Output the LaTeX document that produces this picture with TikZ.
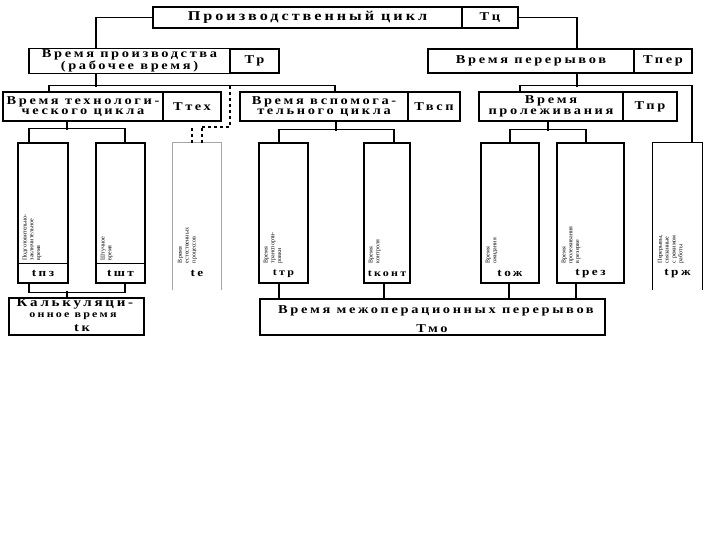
\documentclass[tikz,border=0pt]{standalone}
\usepackage{fontspec}
\setmainfont{Liberation Serif}[FakeStretch=1.2, LetterSpace=22]
\newfontfamily\vfont{Liberation Serif}
\usetikzlibrary{calc}
\begin{document}
\begin{tikzpicture}[x=1pt,y=-1pt,
  box/.style={draw, line width=1.1pt, inner sep=1pt, align=center, font=\bfseries\fontsize{12}{10.5}\selectfont},
  sym/.style={box, font=\bfseries\fontsize{12}{11}\selectfont},
  tall/.style={draw, line width=1.1pt, inner sep=0pt, minimum height=140pt},
  lbl/.style={font=\bfseries\fontsize{11}{10}\selectfont, inner sep=0pt},
  txt/.style={inner sep=0pt, font=\bfseries\fontsize{12}{11}\selectfont},
  vtxt/.style={rotate=90, anchor=north west, align=left, inner sep=0pt, font=\vfont\fontsize{6}{6.8}\selectfont},
  conn/.style={line width=1.1pt},
  dconn/.style={line width=1.1pt, dashed}]
\fill[white] (0,0) rectangle (720,540);
\useasboundingbox (0,0) rectangle (720,540);

% level 1
\node[box, minimum width=309pt, minimum height=21pt, font=\bfseries\fontsize{13.5}{13}\selectfont] (cyc) at (307.5,17.5) {Производственный цикл};
\node[sym, minimum width=56pt, minimum height=21pt] (tc) at (490,17.5) {Тц};
% level 2
\node[box, minimum width=201pt, minimum height=24pt] (tr1) at (129.5,61) {Время производства\\(рабочее время)};
\node[sym, minimum width=49pt, minimum height=24pt] (tr2) at (254.5,61) {Тр};
\node[box, minimum width=206pt, minimum height=24pt] (tp1) at (531,61) {Время перерывов};
\node[sym, minimum width=58pt, minimum height=24pt] (tp2) at (663,61) {Тпер};
% level 3
\node[box, minimum width=160pt, minimum height=29pt] (tx1) at (83,106.5) {Время технологи-\\ческого цикла};
\node[sym, minimum width=58pt, minimum height=29pt] (tx2) at (192,106.5) {Ттех};
\node[box, minimum width=168pt, minimum height=29pt] (vs1) at (324,106.5) {Время вспомога-\\тельного цикла};
\node[sym, minimum width=52pt, minimum height=29pt] (vs2) at (434,106.5) {Твсп};
\node[box, minimum width=144pt, minimum height=29pt] (pr1) at (551,106.5) {Время\\пролеживания};
\node[sym, minimum width=54pt, minimum height=29pt] (pr2) at (650,106.5) {Тпр};

% tall boxes
\node[tall, minimum width=50pt] (pz) at (43,213) {};
\node[tall, minimum width=49pt] (sh) at (120.5,213) {};
\node[inner sep=0pt, minimum width=48pt, minimum height=140pt] (te) at (197,213) {};
\node[tall, minimum width=49pt] (tt) at (283.5,213) {};
\node[tall, minimum width=46pt] (kt) at (387,213) {};
\node[tall, minimum width=58pt] (oz) at (510,213) {};
\node[tall, minimum width=67pt] (rz) at (590.5,213) {};
\node[inner sep=0pt, minimum width=49pt, minimum height=140pt] (rj) at (677.5,213) {};
\draw[gray!70, line width=1pt] ([yshift=-7pt]te.south west) -- (te.north west) -- (te.north east) -- ([yshift=-7pt]te.south east);
\draw[conn] ([yshift=-7pt]rj.south west) -- (rj.north west) -- (rj.north east) -- ([yshift=-7pt]rj.south east);
\draw[line width=0.8pt] ([yshift=20pt]pz.south west) -- ([yshift=20pt]pz.south east);
\draw[line width=0.8pt] ([yshift=20pt]sh.south west) -- ([yshift=20pt]sh.south east);

% labels in tall boxes
\node[lbl] (pzl) at ([yshift=10pt]pz.south) {tпз};
\node[lbl] (shl) at ([yshift=10pt]sh.south) {tшт};
\node[lbl] (tel) at ([yshift=10pt]te.south) {tе};
\node[lbl, font=\bfseries\fontsize{10}{10}\selectfont] (ttl) at ([yshift=10pt]tt.south) {tтр};
\node[lbl, font=\bfseries\fontsize{10}{10}\selectfont] (ktl) at ([yshift=10pt]kt.south) {tконт};
\node[lbl] (ozl) at ([yshift=10pt]oz.south) {tож};
\node[lbl] (rzl) at ([yshift=10pt]rz.south) {tрез};
\node[lbl] (rjl) at ([yshift=10pt]rj.south) {tрж};

% vertical texts
\node[vtxt] (pzv) at ([xshift=5pt,yshift=23pt]pz.south west) {Подготовительно-\\заключительное\\время};
\node[vtxt] (shv) at ([xshift=5pt,yshift=23pt]sh.south west) {Штучное\\время};
\node[vtxt] (tev) at ([xshift=5pt,yshift=20pt]te.south west) {Время\\естественных\\процессов};
\node[vtxt] (ttv) at ([xshift=5pt,yshift=20pt]tt.south west) {Время\\транспорти-\\ровки};
\node[vtxt] (ktv) at ([xshift=5pt,yshift=20pt]kt.south west) {Время\\контроля};
\node[vtxt] (ozv) at ([xshift=5pt,yshift=20pt]oz.south west) {Время\\ожидания};
\node[vtxt] (rzv) at ([xshift=5pt,yshift=20pt]rz.south west) {Время\\пролеживания\\в резерве};
\node[vtxt] (rjv) at ([xshift=5pt,yshift=20pt]rj.south west) {Перерывы,\\связанные\\с режимом\\работы};

% bottom boxes
\node[draw, line width=1.1pt, minimum width=135pt, minimum height=37pt] (calc) at (76.5,316.5) {};
\node[inner sep=0pt, font=\bfseries\fontsize{12.5}{12}\selectfont] (calca) at (75,304) {Калькуляци-};
\node[inner sep=0pt, font=\bfseries\fontsize{10}{9}\selectfont] (calcb) at (73,316) {онное время};
\node[inner sep=0pt, font=\bfseries\fontsize{12}{11}\selectfont] (calcc) at (82,328) {tк};
\node[draw, line width=1.1pt, minimum width=345pt, minimum height=36pt] (tmo) at (432.5,317) {};
\node[txt] (tmoa) at (436,311) {Время межоперационных перерывов};
\node[inner sep=0pt, font=\bfseries\fontsize{12}{11}\selectfont] (tmob) at (432,329) {Тмо};

% connectors
\draw[conn] (cyc.west) -| ([xshift=-33.5pt]tr1.north);
\draw[conn] (tc.east) -| ([xshift=46pt]tp1.north);
\draw[conn] ([xshift=-33.5pt]tr1.south) -- ++(0,13);
\draw[conn] ([xshift=-34pt]tx1.north) -- ++(0,-6) -| ([xshift=11pt]vs1.north);
\coordinate (dj) at (230,86);
\coordinate (dk) at (230,127);
\draw[dconn] (dj) -- (dk) -- ([xshift=5pt]te.north |- dk);
\draw[dconn] ([xshift=-5pt]te.north) -- ++(0,-16);
\draw[dconn] ([xshift=5pt]te.north) -- ++(0,-16);
\draw[conn] ([xshift=-16pt]tx1.south) -- ++(0,8);
\draw[conn] ([xshift=-14pt]pz.north) -- ++(0,-14) -| ([xshift=4.5pt]sh.north);
\draw[conn] ([xshift=12pt]vs1.south) -- ++(0,9);
\draw[conn] ([xshift=-4.5pt]tt.north) -- ++(0,-13) -| ([xshift=7pt]kt.north);
\draw[conn] ([xshift=46pt]tp1.south) -- ++(0,13);
\draw[conn] ([xshift=-31pt]pr1.north) -- ++(0,-6) -| ([xshift=14.5pt]rj.north);
\draw[conn] ([xshift=-3pt]pr1.south) -- ++(0,9);
\draw[conn] (oz.north) -- ++(0,-13) -| ([xshift=-4.5pt]rz.north);
\draw[conn] ([xshift=-14pt]pz.south) -- ++(0,9) -| ([xshift=4.5pt]sh.south);
\draw[conn] ([xshift=-9.5pt]calc.north) -- ++(0,-6);
\draw[conn] ([xshift=-4.5pt]tt.south) -- ++(0,16);
\draw[conn] ([xshift=-3pt]kt.south) -- ++(0,16);
\draw[conn] ([xshift=-1pt]oz.south) -- ++(0,16);
\draw[conn] ([xshift=-14.5pt]rz.south) -- ++(0,16);
\end{tikzpicture}
\end{document}
